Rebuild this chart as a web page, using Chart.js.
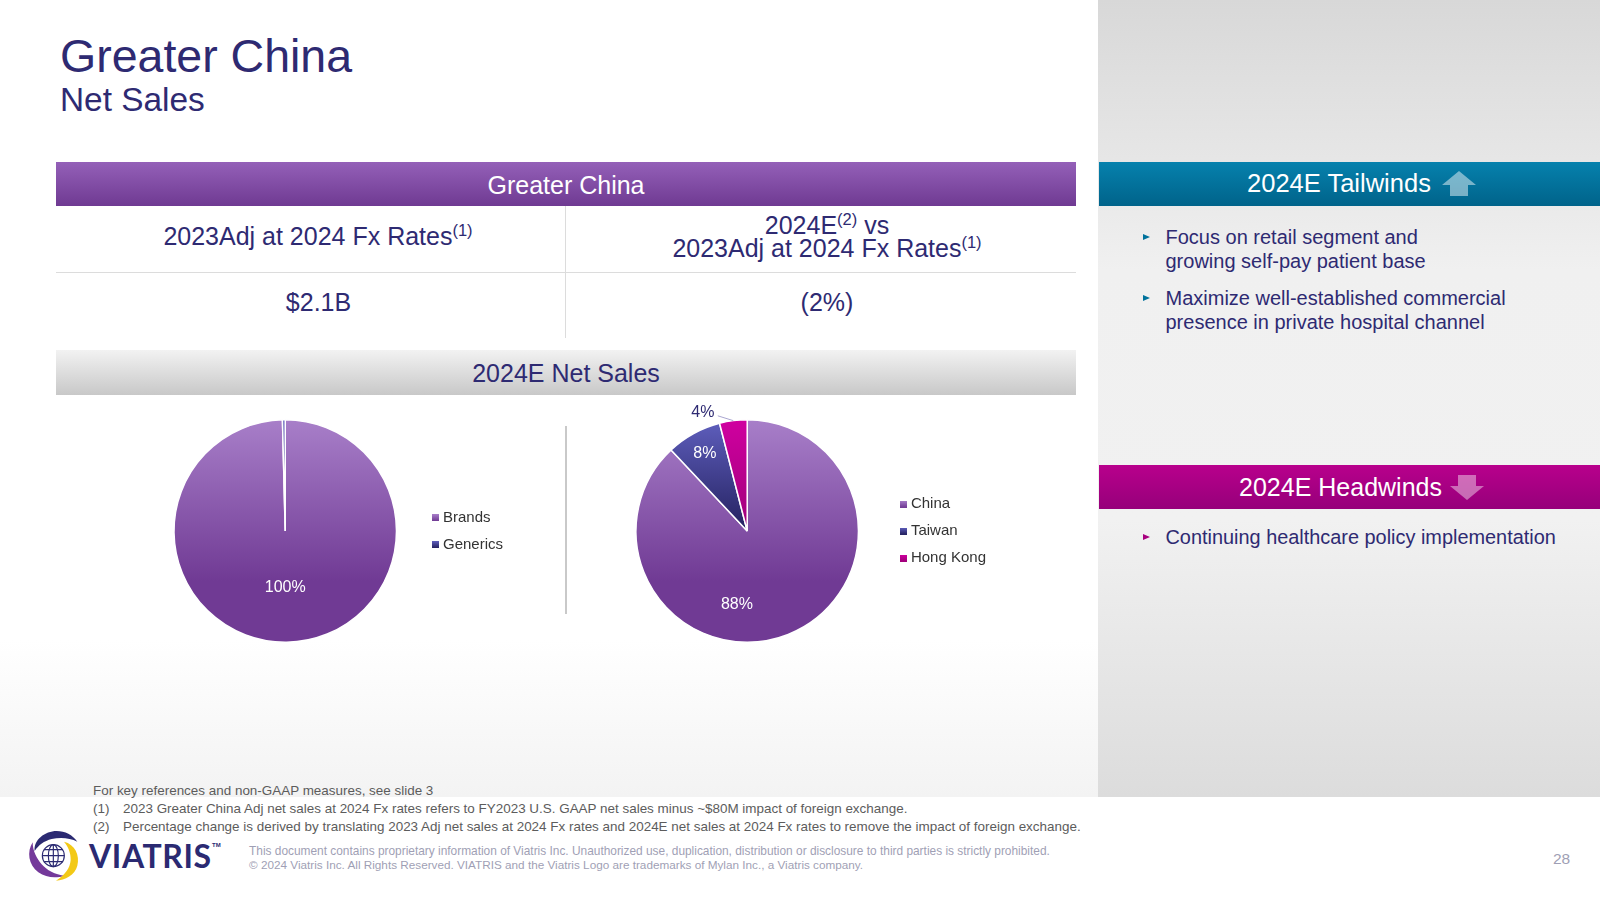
<!DOCTYPE html>
<html>
<head>
<meta charset="utf-8">
<title>Greater China Net Sales</title>
<script src="https://cdn.jsdelivr.net/npm/chart.js@4"></script>
<style>
html, body { margin: 0; padding: 0; background: #fff; }
body { width: 1600px; height: 900px; position: relative; overflow: hidden; font-family: "Liberation Sans", Arial, sans-serif; color: #2e2a72; }
.abs { position: absolute; white-space: nowrap; }
.center { text-align: center; }
sup { font-size: 66%; line-height: 0; vertical-align: baseline; position: relative; top: -0.55em; }
#left-bg { left: 0; top: 0; width: 1098px; height: 797px; background: linear-gradient(#fff 0, #fff 640px, #f3f3f3 797px); }
#right-bg { left: 1098px; top: 0; width: 502px; height: 797px; background: linear-gradient(#d8d8d8 0, #f0f0f0 270px, #f1f1f1 520px, #dcdcdc 797px); }
.band { display: flex; align-items: center; justify-content: center; box-sizing: border-box; }
.note { font-size: 13.44px; color: #5c5c5c; }
.legal { font-size: 11.9px; color: #9f9fb5; }
.bullet { font-size: 20px; line-height: 24px; }
.tri { width: 0; height: 0; border-left: 7px solid; border-top: 3.5px solid transparent; border-bottom: 3.5px solid transparent; }
</style>
</head>
<body>
<div class="abs" id="left-bg"></div>
<div class="abs" id="right-bg"></div>

<div class="abs" style="left:60px;top:28px;font-size:46.5px;line-height:56px">Greater China</div>
<div class="abs" style="left:60px;top:80px;font-size:33.4px;line-height:40px">Net Sales</div>

<div class="abs band" style="left:56px;top:162px;width:1020px;height:44px;padding-top:2px;font-size:25px;color:#fff;background:linear-gradient(#9460b8,#6f3a92)">Greater China</div>
<div class="abs center" style="left:56px;top:218px;width:524px;font-size:25px;line-height:36px">2023Adj at 2024 Fx Rates<sup>(1)</sup></div>
<div class="abs center" style="left:566px;top:214px;width:522px;font-size:25px;line-height:23px">2024E<sup>(2)</sup> vs<br>2023Adj at 2024 Fx Rates<sup>(1)</sup></div>
<div class="abs" style="left:56px;top:272px;width:1020px;height:1px;background:#dcdcdc"></div>
<div class="abs" style="left:565px;top:206px;width:1px;height:132px;background:#dcdcdc"></div>
<div class="abs center" style="left:56px;top:284px;width:525px;font-size:25px;line-height:36px">$2.1B</div>
<div class="abs center" style="left:566px;top:284px;width:522px;font-size:25px;line-height:36px">(2%)</div>

<div class="abs band" style="left:56px;top:350px;width:1020px;height:45px;padding-top:2px;font-size:25px;background:linear-gradient(#f2f2f2,#c8c8c8)">2024E Net Sales</div>

<div class="abs" style="left:565px;top:426px;width:1.5px;height:188px;background:#c9c9c9"></div>
<canvas id="mix-chart" class="abs" style="left:147px;top:391px"></canvas>
<canvas id="region-chart" class="abs" style="left:603px;top:391px"></canvas>

<div class="abs band" style="left:1099px;top:162px;width:501px;height:44px;padding-left:24px;padding-bottom:2px;font-size:25.5px;color:#fff;background:linear-gradient(#0681ad,#00638a)">2024E Tailwinds
  <svg width="34" height="25" style="margin-left:11px"><path d="M17 0L34 14H26V25H8V14H0Z" fill="#fff" opacity=".47"/></svg></div>
<div class="abs band" style="left:1099px;top:465px;width:501px;height:44px;padding-left:24px;font-size:25px;color:#fff;background:linear-gradient(#b8008c,#96007a)">2024E Headwinds
  <svg width="34" height="25" style="margin-left:8px"><path d="M8 0H26V11H34L17 25L0 11H8Z" fill="#fff" opacity=".42"/></svg></div>

<div class="abs tri" style="left:1143px;top:234px;color:#00729c"></div>
<div class="abs bullet" style="left:1165.5px;top:225px">Focus on retail segment and<br>growing self-pay patient base</div>
<div class="abs tri" style="left:1143px;top:295px;color:#00729c"></div>
<div class="abs bullet" style="left:1165.5px;top:286px">Maximize well-established commercial<br>presence in private hospital channel</div>
<div class="abs tri" style="left:1143px;top:534px;color:#a8007f"></div>
<div class="abs bullet" style="left:1165.5px;top:525px;font-size:19.9px">Continuing healthcare policy implementation</div>

<div class="abs note" style="left:93px;top:783px">For key references and non-GAAP measures, see slide 3</div>
<div class="abs note" style="left:93px;top:801px">(1)</div>
<div class="abs note" style="left:123px;top:801px">2023 Greater China Adj net sales at 2024 Fx rates refers to FY2023 U.S. GAAP net sales minus ~$80M impact of foreign exchange.</div>
<div class="abs note" style="left:93px;top:819px">(2)</div>
<div class="abs note" style="left:123px;top:819px">Percentage change is derived by translating 2023 Adj net sales at 2024 Fx rates and 2024E net sales at 2024 Fx rates to remove the impact of foreign exchange.</div>

<svg class="abs" style="left:20px;top:825px" width="80" height="62" viewBox="0 0 240 186">
  <path d="M44 78C40 45 75 18 110 18C135 18 158 30 172 50C150 38 120 36 95 42C72 48 56 60 44 78Z" fill="#2b2a72"/>
  <path d="M38 52C20 80 25 120 55 142C80 160 110 160 135 152C105 150 80 135 65 118C50 100 38 78 38 52Z" fill="#74399a"/>
  <path d="M132 50C165 58 180 90 172 122C165 150 135 165 108 167C135 150 150 130 152 105C153 85 145 65 132 50Z" fill="#f3c916"/>
  <g fill="none" stroke="#2b2a72" stroke-width="3.5">
    <circle cx="100" cy="92" r="33"/>
    <ellipse cx="100" cy="92" rx="15" ry="33"/>
    <path d="M100 59V125M67 92H133M73 74H127M73 110H127"/>
  </g>
</svg>
<div class="abs" style="left:89px;top:837px;font-size:32px;line-height:38px;font-weight:bold;font-family:Lato,'Liberation Sans',sans-serif;letter-spacing:.6px;color:#2b2a72">VIATRIS</div>
<div class="abs" style="left:212px;top:842px;font-size:6px;font-weight:bold;color:#2b2a72">TM</div>
<div class="abs legal" style="left:249px;top:844px">This document contains proprietary information of Viatris Inc. Unauthorized use, duplication, distribution or disclosure to third parties is strictly prohibited.</div>
<div class="abs legal" style="left:249px;top:858px;font-size:11.74px">© 2024 Viatris Inc. All Rights Reserved. VIATRIS and the Viatris Logo are trademarks of Mylan Inc., a Viatris company.</div>
<div class="abs" style="left:1553px;top:850px;font-size:15.5px;color:#9f9fb5">28</div>

<script>
var mixLabels = ['Brands', 'Generics'];
var mixValues = [99.6, 0.4];
var mixShown = ['100%', ''];

var regionLabels = ['China', 'Taiwan', 'Hong Kong'];
var regionValues = [88, 8, 4];
var regionShown = ['88%', '8%', '4%'];

var purple = ['#a87fc9', '#703a94'];
var navy = ['#5f5fbe', '#24215f'];
var magenta = ['#d000a0', '#a0007a'];

// the big slice fades over the upper part of the circle, the small ones down to the centre
function sliceGradient(ctx, stops, full) {
    var area = ctx.chart.chartArea;
    if (!area) return stops[1];
    var cy = (area.top + area.bottom) / 2;
    var r = Math.min(area.width, area.height) / 2;
    var g = ctx.chart.ctx.createLinearGradient(0, cy - r, 0, full ? cy + r * 0.45 : cy);
    g.addColorStop(0, stops[0]);
    g.addColorStop(1, stops[1]);
    return g;
}

// small square marker for the legend, drawn on its own canvas so the text can sit close to it
function legendMark(stops) {
    var mark = document.createElement('canvas');
    mark.width = 7;
    mark.height = 7;
    var c = mark.getContext('2d');
    var g = c.createLinearGradient(0, 0, 0, 7);
    g.addColorStop(0, stops[0]);
    g.addColorStop(1, stops[1]);
    c.fillStyle = g;
    c.fillRect(0, 0, 7, 7);
    return mark;
}

// Chart.js has no data labels of its own, so they are drawn here from the arc elements
var sliceLabels = {
    id: 'sliceLabels',
    afterDatasetsDraw: function (chart, args, opts) {
        var c = chart.ctx;
        var arcs = chart.getDatasetMeta(0).data;
        c.save();
        c.font = '16px "Liberation Sans", Arial, sans-serif';
        c.textAlign = 'center';
        c.textBaseline = 'middle';
        opts.text.forEach(function (txt, i) {
            if (!txt) return;
            var arc = arcs[i];
            var place = opts.place[i];
            var mid = (arc.startAngle + arc.endAngle) / 2;
            var ang = place.angle !== undefined ? (place.angle - 90) * Math.PI / 180 : mid;
            var x = arc.x + Math.cos(ang) * arc.outerRadius * place.r;
            var y = arc.y + Math.sin(ang) * arc.outerRadius * place.r;
            if (place.leader) {
                c.strokeStyle = '#aaa6d0';
                c.lineWidth = 1;
                c.beginPath();
                c.moveTo(x + 15, y + 3);
                c.lineTo(arc.x + Math.cos(mid) * arc.outerRadius, arc.y + Math.sin(mid) * arc.outerRadius);
                c.stroke();
            }
            c.fillStyle = place.color;
            c.fillText(txt, x, y);
        });
        c.restore();
    }
};

function makePie(id, width, labels, values, ramps, shown, place) {
    var el = document.getElementById(id);
    el.width = width;
    el.height = 280;
    el.style.width = width + 'px';
    el.style.height = '280px';
    return new Chart(el, {
        type: 'pie',
        data: {
            labels: labels,
            datasets: [{
                data: values,
                backgroundColor: function (ctx) {
                    return sliceGradient(ctx, ramps[ctx.dataIndex], ctx.dataIndex === 0);
                },
                borderColor: '#fff',
                borderWidth: 1.5
            }]
        },
        options: {
            responsive: false,
            animation: false,
            layout: { padding: { top: 28, bottom: 28 } },
            plugins: {
                tooltip: { enabled: false },
                sliceLabels: { text: shown, place: place },
                legend: {
                    position: 'right',
                    labels: {
                        usePointStyle: true,
                        boxWidth: 0.01,
                        boxHeight: 7,
                        padding: 12,
                        color: '#333',
                        font: { family: '"Liberation Sans", Arial, sans-serif', size: 15 },
                        generateLabels: function () {
                            return labels.map(function (txt, i) {
                                return { text: txt, pointStyle: legendMark(ramps[i]), fontColor: '#333', lineWidth: 0, index: i };
                            });
                        }
                    }
                }
            }
        },
        plugins: [sliceLabels]
    });
}

makePie('mix-chart', 366, mixLabels, mixValues, [purple, navy], mixShown,
    [{ r: 0.51, angle: 180, color: '#fff' }, {}]);

makePie('region-chart', 393, regionLabels, regionValues, [purple, navy, magenta], regionShown,
    [{ r: 0.665, angle: 188, color: '#fff' },
     { r: 0.79, color: '#fff' },
     { r: 1.135, angle: 339.4, color: '#2e2a72', leader: true }]);
</script>
</body>
</html>
